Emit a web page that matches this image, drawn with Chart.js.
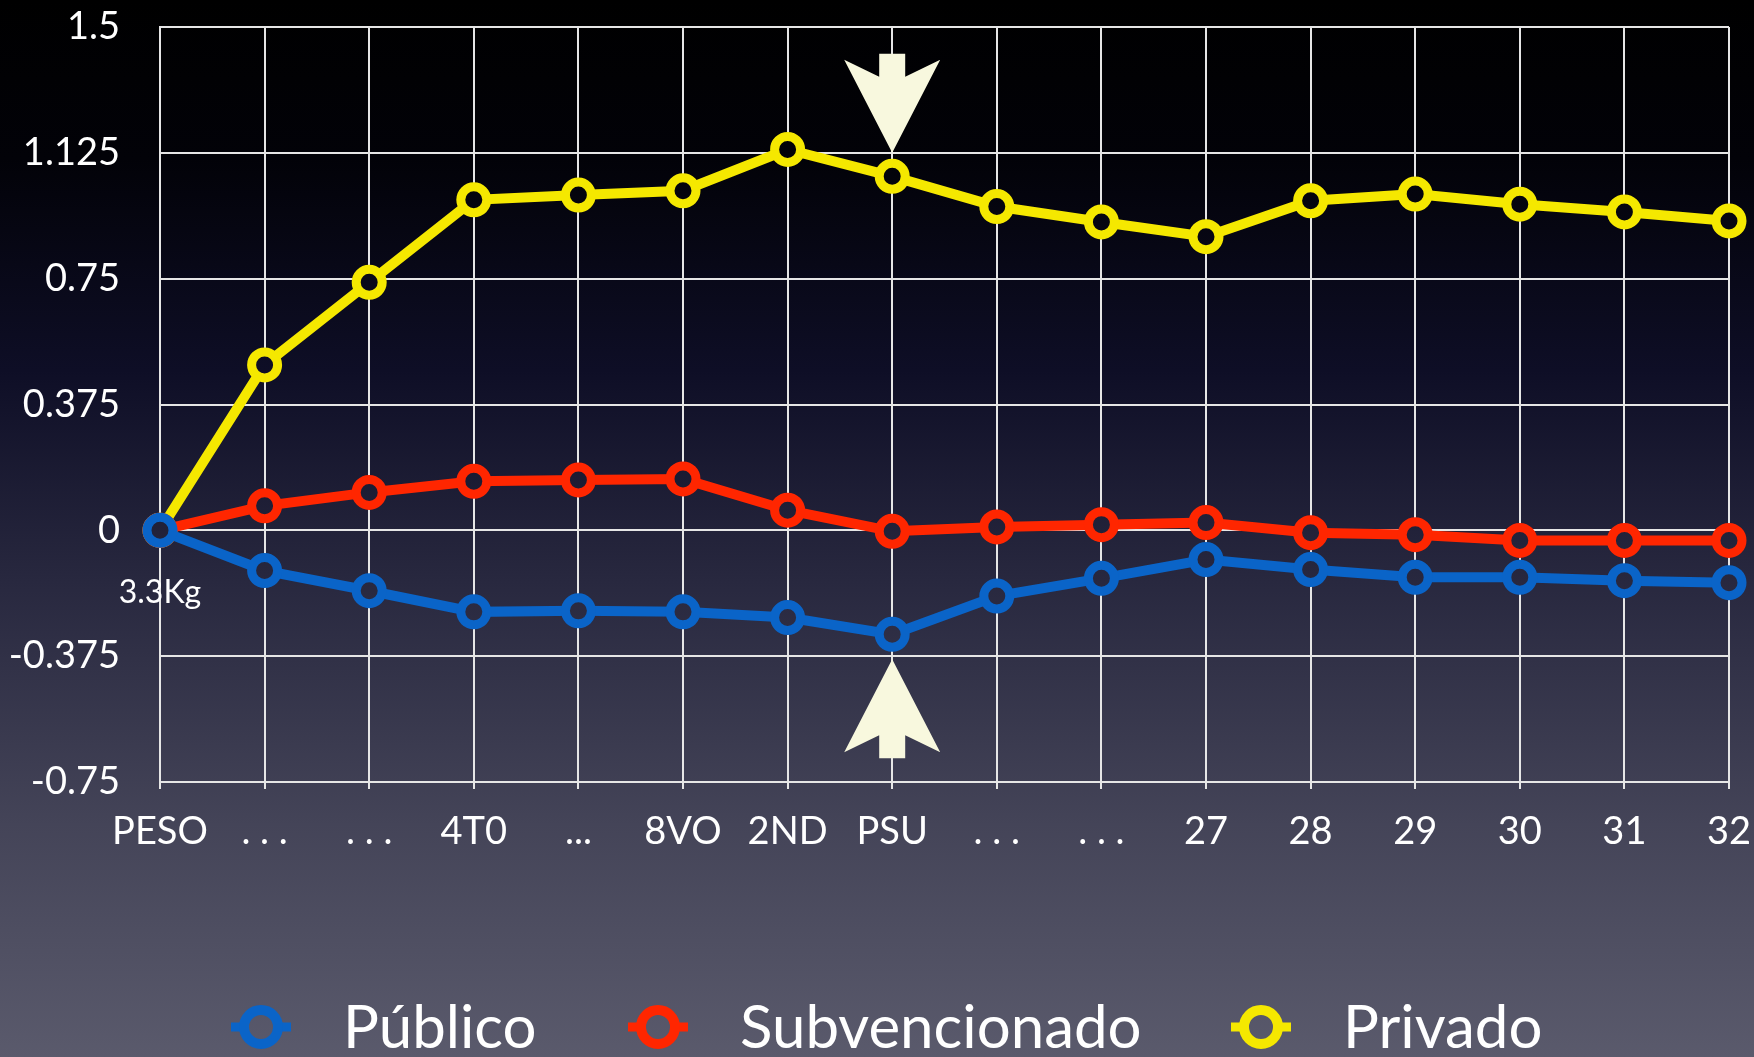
<!DOCTYPE html>
<html lang="es">
<head>
<meta charset="UTF-8">
<title>Peso</title>
<script src="https://cdn.jsdelivr.net/npm/chart.js"></script>
<style>
    html, body { margin: 0; padding: 0; background: #000; overflow: hidden; }
    #grafico { display: block; }
</style>
</head>
<body>
<canvas id="grafico" width="1754" height="1057"></canvas>
<script>
    // categorias e valores
    const categorias = ['PESO', '. . .', '. . .', '4T0', '...', '8VO', '2ND', 'PSU', '. . .', '. . .', '27', '28', '29', '30', '31', '32'];
    const publico = [0, -0.12, -0.18, -0.243, -0.24, -0.243, -0.26, -0.31, -0.196, -0.143, -0.087, -0.117, -0.14, -0.14, -0.15, -0.156];
    const subvencionado = [0, 0.073, 0.113, 0.146, 0.15, 0.153, 0.06, -0.003, 0.01, 0.017, 0.023, -0.007, -0.013, -0.03, -0.03, -0.03];
    const privado = [0, 0.493, 0.739, 0.985, 0.999, 1.012, 1.135, 1.055, 0.965, 0.919, 0.875, 0.982, 1.002, 0.972, 0.949, 0.922];
    const ticksY = [-0.75, -0.375, 0, 0.375, 0.75, 1.125, 1.5];
    const indiceSeta = 7; // PSU
    const notaPeso = '3.3Kg';

    const FONTE = 'Lato, "Open Sans", sans-serif';
    const canvas = document.getElementById('grafico');
    const ctx = canvas.getContext('2d');

    // fundo em degradê (usado tambem no miolo dos pontos)
    const fundo = ctx.createLinearGradient(0, 0, 0, canvas.height);
    fundo.addColorStop(0, '#000000');
    fundo.addColorStop(0.15, '#020208');
    fundo.addColorStop(0.35, '#0e0e26');
    fundo.addColorStop(0.55, '#28283f');
    fundo.addColorStop(0.78, '#444458');
    fundo.addColorStop(1, '#5a5a6c');

    // so os primeiros 7px do tick do eixo x aparecem, o resto serve de espaço
    const baseX = 1057 - 275;
    const corTickX = ctx.createLinearGradient(0, baseX, 0, baseX + 27);
    corTickX.addColorStop(0, '#e6e6e6');
    corTickX.addColorStop(0.27, '#e6e6e6');
    corTickX.addColorStop(0.28, 'rgba(0,0,0,0)');
    corTickX.addColorStop(1, 'rgba(0,0,0,0)');

    const pluginFundo = {
        id: 'fundo',
        beforeDraw(chart) {
            const c = chart.ctx;
            c.save();
            c.fillStyle = fundo;
            c.fillRect(0, 0, chart.width, chart.height);
            c.restore();
        }
    };

    // setas, nota 3.3Kg e legenda
    const pluginExtras = {
        id: 'extras',
        afterDraw(chart) {
            const c = chart.ctx;
            const x = chart.scales.x;
            const y = chart.scales.y;
            c.save();

            // setas apontando para PSU
            const xs = x.getPixelForValue(indiceSeta);
            function seta(tipY, dir) {
                c.beginPath();
                c.moveTo(xs, tipY);
                c.lineTo(xs + 48, tipY + dir * 93);
                c.lineTo(xs + 13, tipY + dir * 76);
                c.lineTo(xs + 13, tipY + dir * 99);
                c.lineTo(xs - 13, tipY + dir * 99);
                c.lineTo(xs - 13, tipY + dir * 76);
                c.lineTo(xs - 48, tipY + dir * 93);
                c.closePath();
                c.fillStyle = '#f8f8de';
                c.fill();
            }
            seta(y.getPixelForValue(1.125), -1);
            seta(y.getPixelForValue(-0.375) + 3, 1);

            // nota do peso
            c.fillStyle = '#ffffff';
            c.font = '32px ' + FONTE;
            c.textAlign = 'center';
            c.textBaseline = 'alphabetic';
            c.fillText(notaPeso, x.getPixelForValue(0), y.getPixelForValue(0) + 73);

            // legenda
            const marcadores = [261, 658, 1261];
            const yl = 1027;
            chart.data.datasets.forEach((ds, i) => {
                const mx = marcadores[i];
                c.strokeStyle = ds.borderColor;
                c.lineWidth = 9;
                c.beginPath();
                c.moveTo(mx - 30, yl);
                c.lineTo(mx + 30, yl);
                c.stroke();
                c.beginPath();
                c.arc(mx, yl, 17, 0, Math.PI * 2);
                c.fillStyle = fundo;
                c.fill();
                c.lineWidth = 10;
                c.stroke();
                c.fillStyle = '#ffffff';
                c.font = '60px ' + FONTE;
                c.textAlign = 'left';
                c.textBaseline = 'middle';
                c.fillText(ds.label, mx + 82, yl + 2);
            });
            c.restore();
        }
    };

    function serie(label, dados, cor) {
        return {
            label: label,
            data: dados,
            borderColor: cor,
            borderWidth: 10,
            pointRadius: 13,
            pointBorderWidth: 9,
            pointBackgroundColor: fundo,
            pointBorderColor: cor,
            tension: 0
        };
    }

    new Chart(ctx, {
        type: 'line',
        data: {
            labels: categorias,
            datasets: [
                serie('Público', publico, '#0a64c8'),
                serie('Subvencionado', subvencionado, '#ff2600'),
                serie('Privado', privado, '#f5e800')
            ]
        },
        options: {
            responsive: false,
            animation: false,
            layout: { padding: { top: 27, right: 25, left: 0, bottom: 0 } },
            plugins: {
                legend: { display: false },
                tooltip: { enabled: false }
            },
            scales: {
                x: {
                    offset: false,
                    grid: { color: '#e6e6e6', lineWidth: 2, tickLength: 27, tickColor: corTickX, drawTicks: true },
                    border: { color: '#e6e6e6', width: 2 },
                    ticks: {
                        color: '#ffffff',
                        font: { family: FONTE, size: 38 },
                        padding: 0,
                        maxRotation: 0,
                        autoSkip: false
                    },
                    afterFit(scale) { scale.height = 275; }
                },
                y: {
                    min: -0.75,
                    max: 1.5,
                    grid: { color: '#e6e6e6', lineWidth: 2, drawTicks: true, tickLength: 38, tickColor: 'rgba(0,0,0,0)' },
                    border: { color: '#e6e6e6', width: 2 },
                    afterBuildTicks(scale) { scale.ticks = ticksY.map(v => ({ value: v })); },
                    ticks: {
                        color: '#ffffff',
                        font: { family: FONTE, size: 38 },
                        padding: 2,
                        callback: v => String(v)
                    },
                    afterFit(scale) { scale.width = 160; }
                }
            }
        },
        plugins: [pluginFundo, pluginExtras]
    });
</script>
</body>
</html>
